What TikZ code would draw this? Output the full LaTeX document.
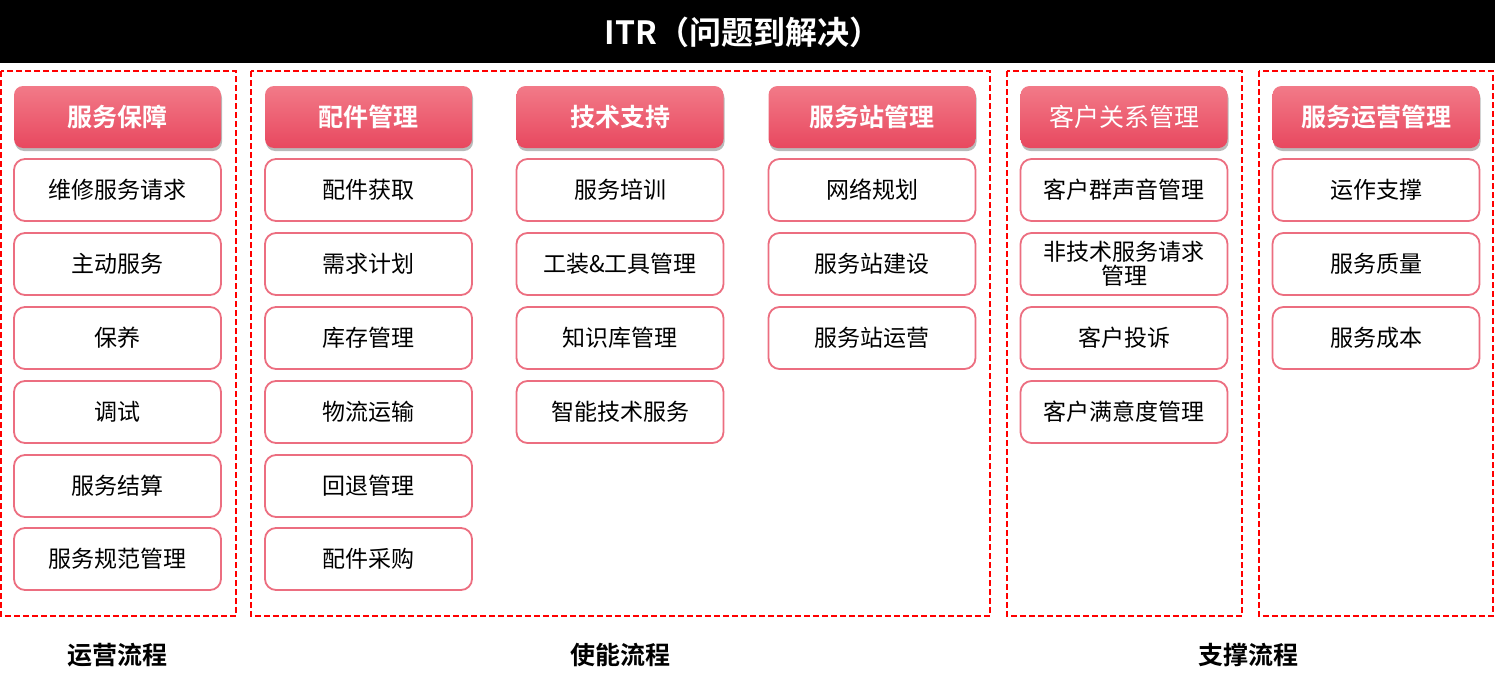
\documentclass[tikz,border=0pt]{standalone}
\usepackage{fontspec}
\setmainfont{Noto Sans CJK SC}[BoldFont=* Bold]
\usetikzlibrary{shadows}
\definecolor{hdtop}{HTML}{F27A88}
\definecolor{hdbot}{HTML}{E8485F}
\definecolor{itemline}{HTML}{EC6E80}
\definecolor{dashred}{HTML}{FF0000}
\begin{document}
\begin{tikzpicture}[x=1pt,y=-1pt,
  grp/.style={draw=dashred,line width=2pt,dash pattern=on 6pt off 3pt},
  hdr/.style={rounded corners=9pt,minimum width=207pt,minimum height=62pt,inner sep=0pt,
    top color=hdtop,bottom color=hdbot,draw=none,text=white,font=\fontsize{25}{27}\selectfont\bfseries,
    drop shadow={shadow xshift=1pt,shadow yshift=-3pt,opacity=0.45,fill=black!60}},
  hdrn/.style={hdr,font=\fontsize{25}{27}\selectfont},
  item/.style={rounded corners=11pt,minimum width=207pt,minimum height=62pt,inner sep=0pt,
    draw=itemline,line width=1.8pt,fill=white,font=\fontsize{23}{25}\selectfont,align=center},
  lbl/.style={font=\fontsize{25}{27}\selectfont\bfseries}]
\useasboundingbox (0,0) rectangle (1495,677);
\fill[black] (0,0) rectangle (1495,63);
\node[text=white,font=\fontsize{32}{34}\selectfont\bfseries] (title) at (743,32) {ITR（问题到解决）};
\draw[grp] (1,71) rectangle (236,616);
\draw[grp] (251,71) rectangle (990,616);
\draw[grp] (1007,71) rectangle (1242,616);
\draw[grp] (1259,71) rectangle (1493,616);
% headers
\node[hdr] (h1) at (117.5,117) {服务保障};
\node[hdr] (h2) at (368.5,117) {配件管理};
\node[hdr] (h3) at (620,117) {技术支持};
\node[hdr] (h4) at (872,117) {服务站管理};
\node[hdrn] (h5) at (1124,117) {客户关系管理};
\node[hdr] (h6) at (1376,117) {服务运营管理};
% column 1
\node[item] (a1) at (117.5,190) {维修服务请求};
\node[item] (a2) at (117.5,264) {主动服务};
\node[item] (a3) at (117.5,338) {保养};
\node[item] (a4) at (117.5,412) {调试};
\node[item] (a5) at (117.5,486) {服务结算};
\node[item] (a6) at (117.5,559) {服务规范管理};
% column 2
\node[item] (b1) at (368.5,190) {配件获取};
\node[item] (b2) at (368.5,264) {需求计划};
\node[item] (b3) at (368.5,338) {库存管理};
\node[item] (b4) at (368.5,412) {物流运输};
\node[item] (b5) at (368.5,486) {回退管理};
\node[item] (b6) at (368.5,559) {配件采购};
% column 3
\node[item] (c1) at (620,190) {服务培训};
\node[item] (c2) at (620,264) {工装\&工具管理};
\node[item] (c3) at (620,338) {知识库管理};
\node[item] (c4) at (620,412) {智能技术服务};
% column 4
\node[item] (d1) at (872,190) {网络规划};
\node[item] (d2) at (872,264) {服务站建设};
\node[item] (d3) at (872,338) {服务站运营};
% column 5
\node[item] (e1) at (1124,190) {客户群声音管理};
\node[item] (e2) at (1124,264) {非技术服务请求\\[-1pt]管理};
\node[item] (e3) at (1124,338) {客户投诉};
\node[item] (e4) at (1124,412) {客户满意度管理};
% column 6
\node[item] (f1) at (1376,190) {运作支撑};
\node[item] (f2) at (1376,264) {服务质量};
\node[item] (f3) at (1376,338) {服务成本};
% labels
\node[lbl] (l1) at (117,655) {运营流程};
\node[lbl] (l2) at (620,655) {使能流程};
\node[lbl] (l3) at (1248,655) {支撑流程};
\end{tikzpicture}
\end{document}
